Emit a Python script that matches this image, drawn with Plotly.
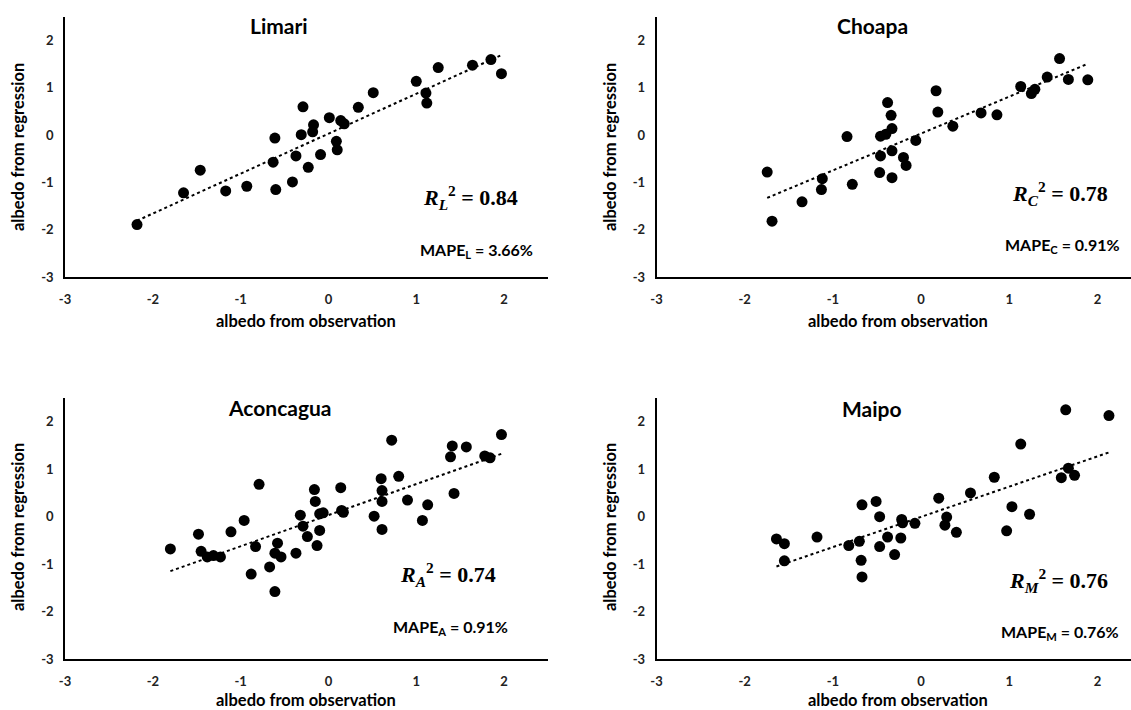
import numpy as np
import plotly.graph_objects as go

# ---------------- data ----------------
limari_obs = [-2.18, -1.65, -1.46, -1.17, -0.93, -0.61, -0.63, -0.60, -0.41, -0.37,
              -0.31, -0.29, -0.23, -0.18, -0.17, -0.09, 0.01, 0.09, 0.10, 0.14,
              0.18, 0.34, 0.51, 1.00, 1.11, 1.12, 1.25, 1.64, 1.85, 1.97]
limari_reg = [-1.89, -1.22, -0.74, -1.18, -1.08, -0.06, -0.57, -1.15, -0.99, -0.44,
              0.01, 0.60, -0.68, 0.07, 0.22, -0.41, 0.37, -0.13, -0.31, 0.31,
              0.24, 0.59, 0.90, 1.14, 0.89, 0.68, 1.43, 1.48, 1.60, 1.30]

choapa_obs = [-1.745, -1.69, -1.35, -1.13, -1.12, -0.84, -0.78, -0.47, -0.46, -0.46,
              -0.40, -0.38, -0.34, -0.33, -0.33, -0.33, -0.20, -0.17, -0.06, 0.17,
              0.19, 0.36, 0.68, 0.86, 1.13, 1.25, 1.29, 1.43, 1.57, 1.67, 1.89]
choapa_reg = [-0.78, -1.82, -1.41, -1.15, -0.92, -0.03, -1.04, -0.79, -0.44, -0.02,
              0.02, 0.69, 0.42, 0.14, -0.33, -0.90, -0.47, -0.64, -0.11, 0.94,
              0.49, 0.19, 0.47, 0.43, 1.03, 0.88, 0.97, 1.23, 1.62, 1.18, 1.17]

aconcagua_obs = [-1.80, -1.48, -1.45, -1.38, -1.31, -1.23, -1.11, -0.96, -0.88, -0.83,
                 -0.79, -0.67, -0.61, -0.61, -0.58, -0.54, -0.37, -0.32, -0.29, -0.24,
                 -0.16, -0.15, -0.13, -0.10, -0.10, -0.06, 0.14, 0.15, 0.17, 0.52,
                 0.60, 0.61, 0.61, 0.61, 0.72, 0.80, 0.90, 1.07, 1.13, 1.39,
                 1.41, 1.43, 1.57, 1.78, 1.84, 1.97]
aconcagua_reg = [-0.68, -0.37, -0.73, -0.85, -0.82, -0.85, -0.32, -0.08, -1.21, -0.63,
                 0.68, -1.06, -1.58, -0.77, -0.56, -0.85, -0.77, 0.03, -0.20, -0.42,
                 0.57, 0.32, -0.61, -0.29, 0.06, 0.08, 0.61, 0.13, 0.09, 0.01,
                 0.80, 0.55, 0.32, -0.27, 1.61, 0.85, 0.35, -0.08, 0.25, 1.26,
                 1.49, 0.49, 1.47, 1.28, 1.24, 1.73]

maipo_obs = [-1.64, -1.55, -1.55, -1.18, -0.82, -0.70, -0.68, -0.67, -0.67, -0.51,
             -0.47, -0.47, -0.38, -0.30, -0.23, -0.22, -0.21, -0.07, 0.20, 0.27,
             0.29, 0.40, 0.56, 0.83, 0.97, 1.03, 1.13, 1.23, 1.59, 1.64,
             1.67, 1.74, 2.13]
maipo_reg = [-0.47, -0.57, -0.93, -0.43, -0.61, -0.52, -0.92, -1.27, 0.25, 0.32,
             0.00, -0.63, -0.43, -0.80, -0.45, -0.06, -0.13, -0.14, 0.39, -0.18,
             -0.01, -0.33, 0.50, 0.83, -0.30, 0.21, 1.53, 0.05, 0.82, 2.25,
             1.02, 0.87, 2.13]

titles = ["Limari", "Choapa", "Aconcagua", "Maipo"]
subs = ["L", "C", "A", "M"]
r2_values = ["0.84", "0.78", "0.74", "0.76"]
mape_values = ["3.66%", "0.91%", "0.91%", "0.76%"]
tick_vals = [-3, -2, -1, 0, 1, 2]
tick_text = ["-3", "-2", "-1", "0", "1", "2"]

series = [(limari_obs, limari_reg), (choapa_obs, choapa_reg),
          (aconcagua_obs, aconcagua_reg), (maipo_obs, maipo_reg)]

# ---------------- layout geometry ----------------
W, H = 1131, 710
def px(x):
    return x / W
def py(y):
    return 1 - y / H

xdoms = [[px(65), px(548)], [px(656.5), 1.0], [px(65), px(548)], [px(656.5), 1.0]]
ydoms = [[py(277), py(17)], [py(277), py(17)], [py(659), py(398)], [py(659), py(398)]]
xranges = [[-3, 2.5], [-3, 2.38], [-3, 2.5], [-3, 2.38]]

fig = go.Figure()
FONT = "Lato, Open Sans, sans-serif"

for i, (xs, ys) in enumerate(series):
    n = i + 1
    xa = "x" if n == 1 else f"x{n}"
    ya = "y" if n == 1 else f"y{n}"
    xarr = np.array(xs)
    yarr = np.array(ys)
    slope, icpt = np.polyfit(xarr, yarr, 1)
    lx = np.array([xarr.min(), xarr.max()])
    fig.add_trace(go.Scatter(x=lx, y=slope * lx + icpt, mode="lines",
                             line=dict(color="black", width=2, dash="dot"),
                             xaxis=xa, yaxis=ya, showlegend=False, hoverinfo="skip"))
    fig.add_trace(go.Scatter(x=xs, y=ys, mode="markers",
                             marker=dict(color="black", size=11),
                             xaxis=xa, yaxis=ya, showlegend=False))

    axis_common = dict(showgrid=False, zeroline=False, showline=True,
                       linecolor="black", linewidth=1.5, ticks="", automargin=False,
                       tickfont=dict(family=FONT, size=13, color="#222222", weight="bold"),
                       tickvals=tick_vals, ticktext=tick_text)
    fig.layout[f"xaxis{'' if n == 1 else n}"] = dict(
        domain=xdoms[i], range=xranges[i], anchor=ya,
        ticklabelstandoff=10, **axis_common)
    fig.layout[f"yaxis{'' if n == 1 else n}"] = dict(
        domain=ydoms[i], range=[-3, 2.5], anchor=xa,
        ticklabelstandoff=7, **axis_common)

# annotations: titles, stats, axis titles (in pixel positions -> paper coordinates)
title_pos = [(279, 26), (872, 26), (280, 407), (872, 408)]
r2_pos = [(520, 197), (1110, 193), (498, 574), (1110, 580)]
mape_pos = [(535, 251), (1122, 245), (510, 627), (1121, 632)]
xt_pos = [(306, 321), (898, 321), (306, 700), (898, 700)]
yt_pos = [(18, 147), (610, 147), (18, 527), (610, 527)]

def ann(pos, text, font, xanchor="center", angle=0):
    fig.add_annotation(x=px(pos[0]), y=py(pos[1]), xref="paper", yref="paper",
                       xanchor=xanchor, yanchor="middle", text=text, showarrow=False,
                       textangle=angle, font=font)

for i in range(4):
    ann(title_pos[i], f"<b>{titles[i]}</b>", dict(family=FONT, size=21, color="black"))
    ann(r2_pos[i], f"<b><i>R<sub>{subs[i]}</sub></i><sup>2</sup> = {r2_values[i]}</b>",
        dict(family="Liberation Serif, DejaVu Serif, serif", size=22, color="black"),
        xanchor="right")
    ann(mape_pos[i], f"<b>MAPE<sub>{subs[i]}</sub> = {mape_values[i]}</b>",
        dict(family=FONT, size=16, color="black"), xanchor="right")
    ann(xt_pos[i], "<b>albedo from observation</b>", dict(family=FONT, size=16.5, color="black"))
    ann(yt_pos[i], "<b>albedo from regression</b>", dict(family=FONT, size=16.5, color="black"),
        angle=-90)

fig.update_layout(width=W, height=H, margin=dict(l=0, r=0, t=0, b=0, autoexpand=False),
                  template="none",
                  plot_bgcolor="white", paper_bgcolor="white", showlegend=False)

fig.write_html("out.html", config={"displayModeBar": False},
               post_script="document.body.style.margin='0';document.body.style.padding='0';"
                           "document.body.style.overflow='hidden';")
